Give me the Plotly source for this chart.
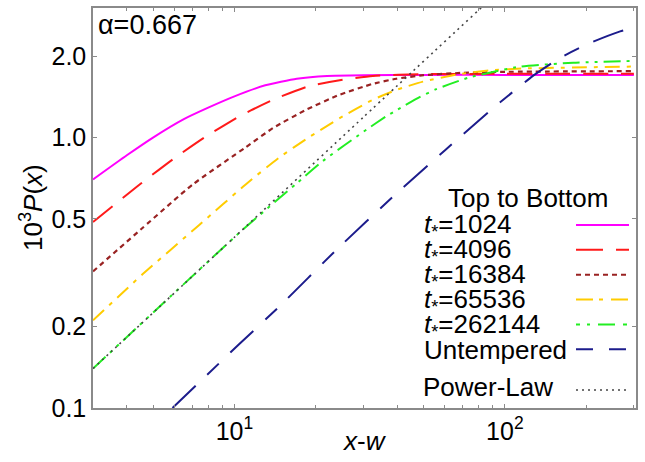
import plotly.graph_objects as go

# ---------------- data ----------------
x_t1024 = [3, 4, 5, 6.5, 8, 10, 13, 17, 22, 30, 50, 100, 300]
y_t1024 = [0.70, 0.86, 1.00, 1.17, 1.29, 1.42, 1.56, 1.65, 1.69, 1.70, 1.705, 1.705, 1.705]

x_t4096 = [3, 4.51, 5.91, 7.74, 10.3, 11.5, 13.9, 18.9, 24.5, 32.5, 50, 100, 300]
y_t4096 = [0.487, 0.676, 0.83, 1.0, 1.19, 1.26, 1.38, 1.55, 1.63, 1.69, 1.715, 1.72, 1.72]

x_t16384 = [3, 4.57, 7.0, 11.0, 13.9, 18.5, 24.5, 32.5, 39.7, 50, 70, 100, 300]
y_t16384 = [0.32, 0.463, 0.67, 0.92, 1.085, 1.27, 1.44, 1.58, 1.65, 1.70, 1.735, 1.75, 1.76]

x_t65536 = [3, 4.57, 7.41, 11.2, 14.7, 18.5, 24.5, 32.5, 39.7, 49.8, 66.2, 87.9, 117, 300]
y_t65536 = [0.211, 0.312, 0.475, 0.681, 0.846, 0.99, 1.18, 1.38, 1.50, 1.61, 1.71, 1.77, 1.80, 1.83]

x_t262144 = [3, 5.5, 10.7, 17.1, 21.2, 30.8, 36.5, 40.2, 48.4, 55.8, 74.1, 114, 179, 300]
y_t262144 = [0.14, 0.246, 0.455, 0.681, 0.818, 1.07, 1.20, 1.27, 1.41, 1.51, 1.67, 1.83, 1.89, 1.92]

x_untemp = [5.9, 10.4, 14.7, 23.8, 39.7, 91.8, 127, 160, 207, 267, 300]
y_untemp = [0.1, 0.172, 0.238, 0.384, 0.621, 1.30, 1.69, 1.97, 2.24, 2.47, 2.55]

x_power = [3, 10, 30, 100]
y_power = [0.14, 0.428, 1.19, 3.64]

series_names = ["=1024", "=4096", "=16384", "=65536", "=262144"]

x_major = [10, 100]
x_major_text = ["10<sup>1</sup>", "10<sup>2</sup>"]
x_minor = [4, 5, 6, 7, 8, 9, 20, 30, 40, 50, 60, 70, 80, 90, 200, 300]
y_ticks = [0.1, 0.2, 0.5, 1.0, 2.0]
y_tick_text = ["0.1", "0.2", "0.5", "1.0", "2.0"]

# ---------------- styles ----------------
FONT = "Liberation Sans, Arial, sans-serif"
c_pink, c_red, c_dred, c_yel, c_grn, c_navy, c_pl = (
    "#FF00FF", "#FF1A1A", "#992222", "#FFCC00", "#22EE22", "#1C1C8C", "#444444")

styles = [
    (x_t1024, y_t1024, c_pink, "solid", 2.0),
    (x_t4096, y_t4096, c_red, "25px,13px", 2.0),
    (x_t16384, y_t16384, c_dred, "5px,4px", 2.2),
    (x_t65536, y_t65536, c_yel, "15px,7px,4px,7px", 2.0),
    (x_t262144, y_t262144, c_grn, "17px,6px,3px,6px,3px,6px", 2.0),
    (x_untemp, y_untemp, c_navy, "32px,16px,16px,16px", 2.0),
    (x_power, y_power, c_pl, "2px,4px", 1.6),
]

fig = go.Figure()
for xs, ys, col, dash, w in styles:
    fig.add_trace(go.Scatter(x=xs, y=ys, mode="lines",
                             line=dict(color=col, dash=dash, width=w, shape="spline", smoothing=0.5),
                             showlegend=False, hoverinfo="skip"))

axis_common = dict(showgrid=False, zeroline=False, showline=True, linecolor="#8a8a8a",
                   linewidth=1.5, mirror="ticks", ticks="inside", tickcolor="#8a8a8a",
                   tickfont=dict(family=FONT, size=25, color="black"))

fig.update_xaxes(type="log", range=[0.477, 2.485], tickmode="array", tickvals=x_major,
                 ticktext=x_major_text, ticklen=4,
                 minor=dict(tickmode="array", tickvals=x_minor, ticks="inside", ticklen=3,
                            tickcolor="#8a8a8a", showgrid=False),
                 **axis_common)
fig.update_yaxes(type="log", range=[-1, 0.479], tickmode="array", tickvals=y_ticks,
                 ticktext=y_tick_text, ticklen=4, **axis_common)

L, R, T, B = 93, 9, 6, 54
W, H = 645, 462
pw, ph = W - L - R, H - T - B


def px(xp):
    return (xp - L) / pw


def py(yp):
    return (H - B - yp) / ph


ann = []
# axis titles
ann.append(dict(text="<i>x</i>-<i>w</i>", x=0.5, y=py(441), xref="paper", yref="paper",
                showarrow=False, font=dict(family=FONT, size=26, color="black"),
                xanchor="center", yanchor="middle"))
ann.append(dict(text="10<sup>3</sup><i>P</i>(<i>x</i>)", x=px(31), y=0.5, xref="paper", yref="paper",
                showarrow=False, textangle=-90, font=dict(family=FONT, size=26, color="black"),
                xanchor="center", yanchor="middle"))
# alpha label
ann.append(dict(text="α=0.667", x=px(96), y=py(23), xref="paper", yref="paper",
                showarrow=False, font=dict(family=FONT, size=27, color="black"),
                xanchor="left", yanchor="middle"))
# legend
ann.append(dict(text="Top to Bottom", x=px(528), y=py(197), xref="paper", yref="paper",
                showarrow=False, font=dict(family=FONT, size=26, color="black"),
                xanchor="center", yanchor="middle"))
row_y = [224, 249, 274, 299, 324, 349]
labels = ["<i>t</i><sub>*</sub>" + n for n in series_names] + ["Untempered"]
leg_dash = ["solid", "27px,13px", "5px,4px", "17px,6px,4px,8px",
            "4px,7px,3px,8px,17px,8px", "17px,16px"]
leg_cols = [c_pink, c_red, c_dred, c_yel, c_grn, c_navy]
shapes = []
for yy, lab, d, c in zip(row_y, labels, leg_dash, leg_cols):
    ann.append(dict(text=lab, x=px(422), y=py(yy + 1), xref="paper", yref="paper",
                    showarrow=False, font=dict(family=FONT, size=26, color="black"),
                    xanchor="left", yanchor="middle"))
    shapes.append(dict(type="line", xref="paper", yref="paper", x0=px(576), x1=px(629),
                       y0=py(yy), y1=py(yy), line=dict(color=c, width=2, dash=d)))
ann.append(dict(text="Power-Law", x=px(421), y=py(387), xref="paper", yref="paper",
                showarrow=False, font=dict(family=FONT, size=26, color="black"),
                xanchor="left", yanchor="middle"))
shapes.append(dict(type="line", xref="paper", yref="paper", x0=px(576), x1=px(626),
                   y0=py(390), y1=py(390), line=dict(color=c_pl, width=1.5, dash="2px,4px")))

fig.update_layout(width=W, height=H, margin=dict(l=L, r=R, t=T, b=B),
                  paper_bgcolor="white", plot_bgcolor="white",
                  annotations=ann, shapes=shapes, showlegend=False,
                  font=dict(family=FONT, color="black"))

fig.write_html("out.html")
